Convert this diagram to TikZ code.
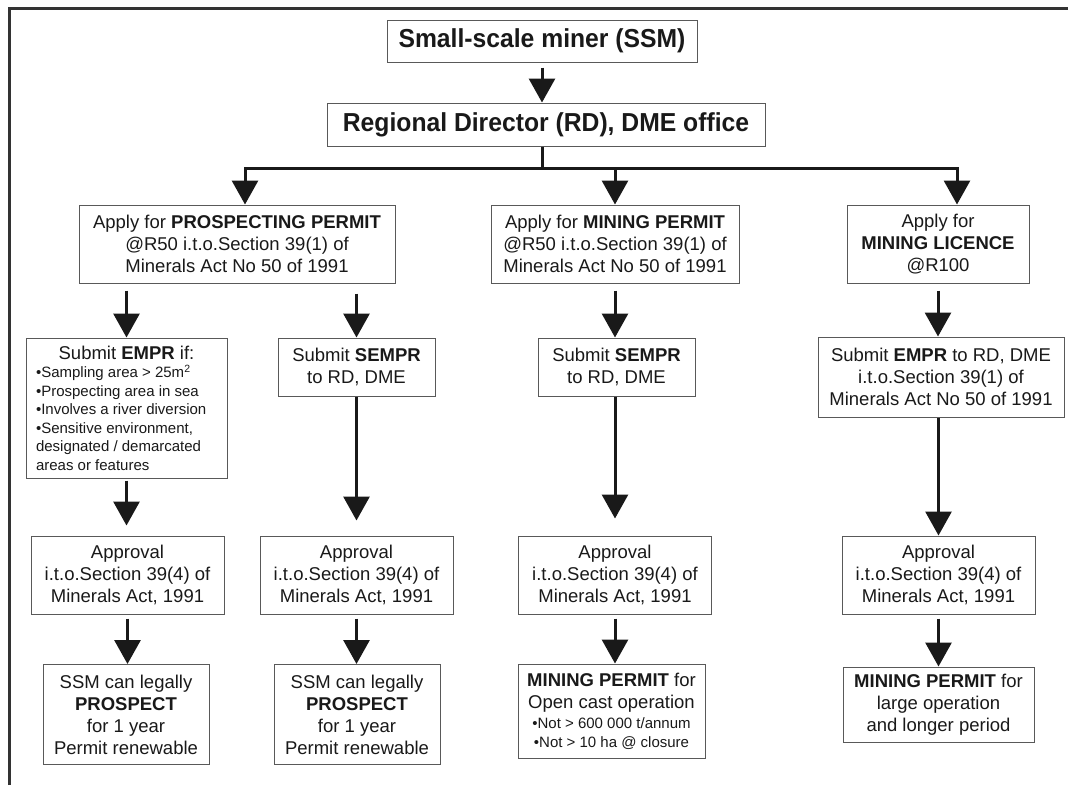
\documentclass[tikz,border=0pt]{standalone}
\usepackage{fontspec}
\setmainfont{Liberation Sans}
\newfontfamily\headfont[FakeStretch=0.95]{Liberation Sans}
\usetikzlibrary{arrows.meta}

\begin{document}
\begin{tikzpicture}[x=1pt, y=-1pt,
        box/.style={draw=black!65, line width=1pt, align=center, inner sep=3pt, text=black!90, font=\fontsize{18.5}{22}\selectfont},
        head/.style={box, font=\headfont\bfseries\fontsize{26}{30}\selectfont},
        arr/.style={black!90, line width=3pt, -{Triangle[length=24pt, width=26pt]}},
        link/.style={black!90, line width=3pt}]
                \useasboundingbox (0,0) rectangle (1068,785);
                \draw[black!80, line width=3pt] (9.5,785) |- (1068,8.5);
                \node[head, minimum width=310, minimum height=42] (ssm) at (542,41) {Small-scale miner (SSM)};
                \node[head, minimum width=438, minimum height=43] (rd) at (546,124.5) {Regional Director (RD), DME office};
                \node[box, minimum width=316, minimum height=78] (pp) at (237,244) {Apply for \textbf{PROSPECTING PERMIT}\\@R50 i.t.o.Section 39(1) of\\Minerals Act No 50 of 1991};
                \node[box, minimum width=248, minimum height=78] (mp) at (615,244) {Apply for \textbf{MINING PERMIT}\\@R50 i.t.o.Section 39(1) of\\Minerals Act No 50 of 1991};
                \node[box, minimum width=182, minimum height=78] (ml) at (938,244) {Apply for\\\textbf{MINING LICENCE}\\@R100};
                \node[box, minimum width=201, minimum height=140, text width=181, align=flush left] (empr1) at (126.5,408) {\makebox[\linewidth]{Submit \textbf{EMPR} if:}\par\fontsize{15}{18.5}\selectfont
                    •Sampling area > 25m\textsuperscript{2}\\•Prospecting area in sea\\•Involves a river diversion\\•Sensitive environment,\\designated / demarcated\\areas or features\par};
                \node[box, minimum width=157, minimum height=58] (sempr1) at (356.5,367) {Submit \textbf{SEMPR}\\to RD, DME};
                \node[box, minimum width=157, minimum height=58] (sempr2) at (616.5,367) {Submit \textbf{SEMPR}\\to RD, DME};
                \node[box, minimum width=246, minimum height=80] (empr2) at (941,377) {Submit \textbf{EMPR} to RD, DME\\i.t.o.Section 39(1) of\\Minerals Act No 50 of 1991};
                \foreach \n/\x in {a1/127.5, a2/356.5, a3/615, a4/938.5}
                    \node[box, minimum width=193, minimum height=78] (\n) at (\x,575) {Approval\\i.t.o.Section 39(4) of\\Minerals Act, 1991};
                \node[box, minimum width=166, minimum height=100] (r1) at (126,714.5) {SSM can legally\\\textbf{PROSPECT}\\for 1 year\\Permit renewable};
                \node[box, minimum width=166, minimum height=100] (r2) at (357,714.5) {SSM can legally\\\textbf{PROSPECT}\\for 1 year\\Permit renewable};
                \node[box, minimum width=187, minimum height=94] (r3) at (611.5,711) {\textbf{MINING PERMIT} for\\Open cast operation\\[-2pt]{\fontsize{15}{19}\selectfont •Not > 600 000 t/annum}\\[-3pt]{\fontsize{15}{19}\selectfont •Not > 10 ha @ closure}};
                \node[box, minimum width=191, minimum height=75] (r4) at (938.5,704.5) {\textbf{MINING PERMIT} for\\large operation\\and longer period};
                \coordinate (j1) at (245,168);
                \coordinate (j3) at (957,168);
                \draw[arr, shorten <=5pt] (ssm.south) -- (ssm.south |- rd.north);
                \draw[link] (ssm.south |- rd.south) -- (ssm.south |- j1);
                \draw[link, line cap=rect] (j1) -- (j3);
                \draw[arr] (j1) -- (j1 |- pp.north);
                \draw[arr] (mp.north |- j1) -- (mp.north);
                \draw[arr] (j3) -- (j3 |- ml.north);
                \draw[arr, shorten <=7pt] (pp.south -| empr1.north) -- (empr1.north);
                \draw[arr, shorten <=10pt] (pp.south -| sempr1.north) -- (sempr1.north);
                \draw[arr, shorten <=7pt] (mp.south) -- (mp.south |- sempr2.north);
                \draw[arr, shorten <=7pt] (ml.south) -- (ml.south |- empr2.north);
                \draw[arr, shorten <=2pt, shorten >=10pt] (empr1.south) -- (empr1.south |- a1.north);
                \draw[arr, shorten >=15pt] (sempr1.south) -- (sempr1.south |- a2.north);
                \draw[arr, shorten >=17pt] (sempr2.south -| a3.north) -- (a3.north);
                \draw[arr] (a4.north |- empr2.south) -- (a4.north);
                \foreach \a/\r in {a1/r1, a2/r2, a3/r3, a4/r4}
                    \draw[arr, shorten <=4pt] (\a.south) -- (\a.south |- \r.north);
\end{tikzpicture}
\end{document}
